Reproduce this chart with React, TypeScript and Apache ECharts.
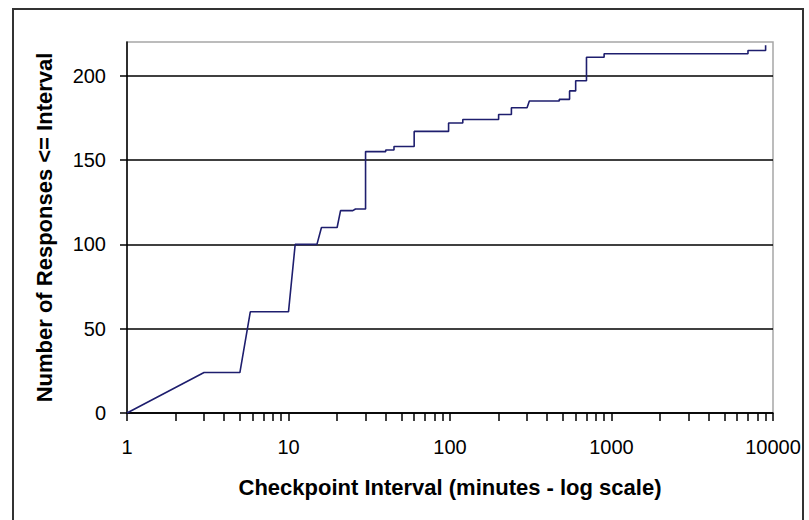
import React, { useEffect, useRef } from "react";
import * as echarts from "echarts";

// Step points (minutes, cumulative responses)
const intervals = [
  1, 3, 5, 5.8, 10, 11, 15, 16, 20, 21, 25, 26, 30, 30, 40, 40, 45, 45, 60, 60,
  98, 98, 120, 120, 200, 200, 240, 240, 300, 310, 475, 475, 550, 550, 600, 600,
  700, 700, 900, 900, 7000, 7000, 9000, 9000,
];
const responses = [
  0, 24, 24, 60, 60, 100, 100, 110, 110, 120, 120, 121, 121, 155, 155, 156, 156, 158, 158, 167,
  167, 172, 172, 174, 174, 177, 177, 181, 181, 185, 185, 186, 186, 191, 191, 197,
  197, 211, 211, 213, 213, 215, 215, 218,
];

const xTickValues = [
  1, 2, 3, 4, 5, 6, 7, 8, 9, 10, 20, 30, 40, 50, 60, 70, 80, 90, 100, 200, 300, 400, 500, 600,
  700, 800, 900, 1000, 2000, 3000, 4000, 5000, 6000, 7000, 8000, 9000, 10000,
];
const xLabelValues = [1, 10, 100, 1000, 10000];
const yTickValues = [0, 50, 100, 150, 200];

const xTitle = "Checkpoint Interval (minutes - log scale)";
const yTitle = "Number of Responses <= Interval";

export default function App() {
  const ref = useRef<HTMLDivElement>(null);
  useEffect(() => {
    if (!ref.current) return;
    const chart = echarts.init(ref.current, null, { renderer: "svg" });
    const font = "'Liberation Sans', Arial, sans-serif";
    chart.setOption({
      animation: false,
      backgroundColor: "#ffffff",
      textStyle: { fontFamily: font },
      grid: {
        left: 127,
        top: 42,
        width: 646,
        height: 371,
        show: true,
        borderColor: "#a6a6a6",
        borderWidth: 1.5,
        backgroundColor: "transparent",
      },
      graphic: [
        {
          type: "rect",
          shape: { x: 13, y: 9, width: 790, height: 530 },
          style: { fill: "none", stroke: "#333333", lineWidth: 2 },
          silent: true,
        },
      ],
      xAxis: {
        type: "log",
        logBase: 10,
        min: 1,
        max: 10000,
        name: xTitle,
        nameLocation: "middle",
        nameGap: 63,
        nameTextStyle: { fontSize: 22, fontWeight: "bold", color: "#000", fontFamily: font },
        axisLine: { show: true, lineStyle: { color: "#000", width: 1.5 } },
        axisTick: {
          show: true,
          length: 8,
          inside: false,
          customValues: xTickValues,
          lineStyle: { color: "#000", width: 1.5 },
        },
        axisLabel: {
          customValues: xLabelValues,
          fontSize: 20,
          color: "#000",
          margin: 24,
          fontFamily: font,
          formatter: (v: number) => String(Math.round(v)),
        },
        splitLine: { show: false },
        minorTick: { show: false },
      },
      yAxis: {
        type: "value",
        min: 0,
        max: 220,
        name: yTitle,
        nameLocation: "middle",
        nameGap: 72,
        nameRotate: 90,
        nameTextStyle: { fontSize: 22, fontWeight: "bold", color: "#000", fontFamily: font },
        axisLine: { show: true, lineStyle: { color: "#000", width: 1.5 } },
        axisTick: {
          show: true,
          length: 7,
          inside: false,
          customValues: yTickValues,
          lineStyle: { color: "#000", width: 1.5 },
        },
        axisLabel: {
          customValues: yTickValues,
          fontSize: 20,
          color: "#000",
          margin: 21,
          fontFamily: font,
        },
        splitLine: { show: true, lineStyle: { color: "#000", width: 1.5 } },
      },
      series: [
        {
          type: "line",
          data: intervals.map((x, i) => [x, responses[i]]),
          showSymbol: false,
          symbol: "none",
          lineStyle: { color: "#1e1e6e", width: 1.6 },
          z: 5,
        },
      ],
    });
    return () => chart.dispose();
  }, []);
  return (
    <div
      ref={ref}
      style={{ position: "fixed", left: 0, top: 0, width: 809, height: 520, background: "#fff" }}
    />
  );
}
